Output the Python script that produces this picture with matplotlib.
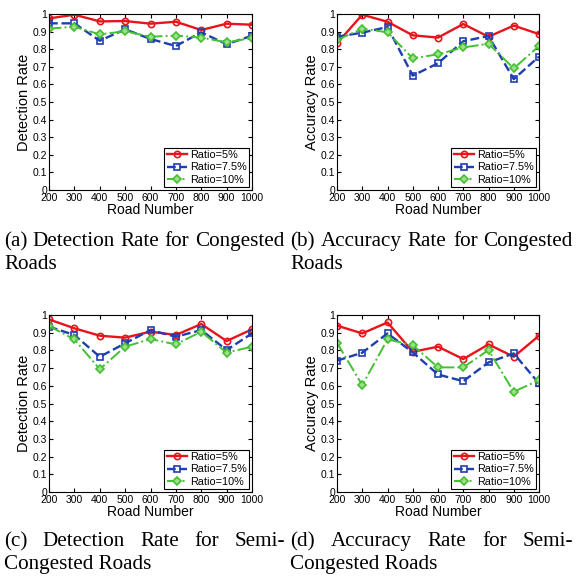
import numpy as np
import matplotlib
matplotlib.use("Agg")
import matplotlib.pyplot as plt

roads = [200, 300, 400, 500, 600, 700, 800, 900, 1000]
labels = ['Ratio=5%', 'Ratio=7.5%', 'Ratio=10%']

# (a) detection rate, congested
det_cong_5 = [0.975, 0.996, 0.958, 0.960, 0.945, 0.956, 0.909, 0.945, 0.939]
det_cong_75 = [0.947, 0.947, 0.848, 0.913, 0.858, 0.818, 0.896, 0.828, 0.877]
det_cong_10 = [0.917, 0.928, 0.884, 0.902, 0.871, 0.877, 0.866, 0.839, 0.864]
# (b) accuracy rate, congested
acc_cong_5 = [0.833, 0.996, 0.956, 0.879, 0.866, 0.943, 0.871, 0.934, 0.886]
acc_cong_75 = [0.871, 0.894, 0.926, 0.650, 0.720, 0.845, 0.875, 0.630, 0.758]
acc_cong_10 = [0.852, 0.917, 0.896, 0.748, 0.771, 0.810, 0.831, 0.691, 0.818]
# (c) detection rate, semi-congested
det_semi_5 = [0.975, 0.925, 0.883, 0.872, 0.906, 0.887, 0.949, 0.853, 0.919]
det_semi_75 = [0.934, 0.887, 0.764, 0.840, 0.915, 0.877, 0.915, 0.802, 0.896]
det_semi_10 = [0.938, 0.862, 0.694, 0.821, 0.864, 0.834, 0.906, 0.787, 0.821]
# (d) accuracy rate, semi-congested
acc_semi_5 = [0.940, 0.896, 0.958, 0.792, 0.821, 0.751, 0.834, 0.764, 0.883]
acc_semi_75 = [0.742, 0.787, 0.896, 0.789, 0.664, 0.626, 0.732, 0.783, 0.613]
acc_semi_10 = [0.843, 0.604, 0.862, 0.830, 0.704, 0.704, 0.802, 0.566, 0.632]

panels = [
    ('Detection Rate', [det_cong_5, det_cong_75, det_cong_10]),
    ('Accuracy Rate', [acc_cong_5, acc_cong_75, acc_cong_10]),
    ('Detection Rate', [det_semi_5, det_semi_75, det_semi_10]),
    ('Accuracy Rate', [acc_semi_5, acc_semi_75, acc_semi_10]),
]

W, H = 576, 578
fig = plt.figure(figsize=(W / 100, H / 100), dpi=100)
plt.rcParams['font.family'] = ['Liberation Sans', 'DejaVu Sans']

# axes boxes in pixels: left, top, right, bottom
boxes = [(49, 14, 252, 190), (337, 14, 539, 190),
         (49, 315, 252, 492), (337, 315, 539, 492)]
styles = [dict(color='#e8141c', ls='-', marker='o', mfc='none', ms=4.5, mew=1.2, lw=1.7),
          dict(color='#1f3fb0', ls='--', marker='s', mfc='none', ms=4, mew=1.2, lw=1.7),
          dict(color='#44c030', ls='-.', marker='D', mfc='#9be08a', ms=4, mew=1.2, lw=1.4)]

for (ylab, series), (l, t, r, b) in zip(panels, boxes):
    ax = fig.add_axes([l / W, 1 - b / H, (r - l) / W, (b - t) / H])
    for vals, st, lab in zip(series, styles, labels):
        ax.plot(roads, vals, label=lab, **st)
    ax.set_xlim(200, 1000)
    ax.set_ylim(0, 1)
    ax.set_xticks(roads)
    ax.set_yticks(np.arange(0, 1.01, 0.1))
    ax.set_yticklabels(['0'] + ['%.1f' % v for v in np.arange(0.1, 0.95, 0.1)] + ['1'])
    ax.tick_params(direction='in', top=True, right=True, labelsize=7.5, length=3, pad=1.5)
    ax.tick_params(axis='x', pad=2.5)
    ax.set_xlabel('Road Number', fontsize=10, labelpad=0)
    ax.set_ylabel(ylab, fontsize=10.5, labelpad=1)
    for s in ax.spines.values():
        s.set_linewidth(0.8)
    leg = ax.legend(loc='lower right', fontsize=7.8, fancybox=False, edgecolor='black',
                    framealpha=1, borderaxespad=0.25, handlelength=1.8, labelspacing=0.2,
                    borderpad=0.25, handletextpad=0.3)
    leg.get_frame().set_linewidth(0.8)

# captions (Times-like), first lines justified between x0 and x1
renderer = fig.canvas.get_renderer()
probe = fig.text(0, 0, '(a) Detection Rate for Congested', family='Liberation Serif', size=10)
cap_size = 10 * 280 / probe.get_window_extent(renderer).width
probe.remove()
cap_font = dict(family='Liberation Serif', size=cap_size)


def justified(words, x0, x1, ypx):
    texts = [fig.text(0, 1 - ypx / H, w, va='baseline', ha='left', **cap_font) for w in words]
    widths = [tx.get_window_extent(renderer).width for tx in texts]
    gap = (x1 - x0 - sum(widths)) / (len(words) - 1)
    x = x0
    for tx, w in zip(texts, widths):
        tx.set_x(x / W)
        x += w + gap


justified(['(a)', 'Detection', 'Rate', 'for', 'Congested'], 4, 284, 246)
fig.text(4 / W, 1 - 269 / H, 'Roads', va='baseline', **cap_font)
justified(['(b)', 'Accuracy', 'Rate', 'for', 'Congested'], 290, 573, 246)
fig.text(290 / W, 1 - 269 / H, 'Roads', va='baseline', **cap_font)
justified(['(c)', 'Detection', 'Rate', 'for', 'Semi-'], 4, 285, 546)
fig.text(4 / W, 1 - 569 / H, 'Congested Roads', va='baseline', **cap_font)
justified(['(d)', 'Accuracy', 'Rate', 'for', 'Semi-'], 290, 573, 546)
fig.text(290 / W, 1 - 569 / H, 'Congested Roads', va='baseline', **cap_font)

fig.savefig('out.png', dpi=100)
